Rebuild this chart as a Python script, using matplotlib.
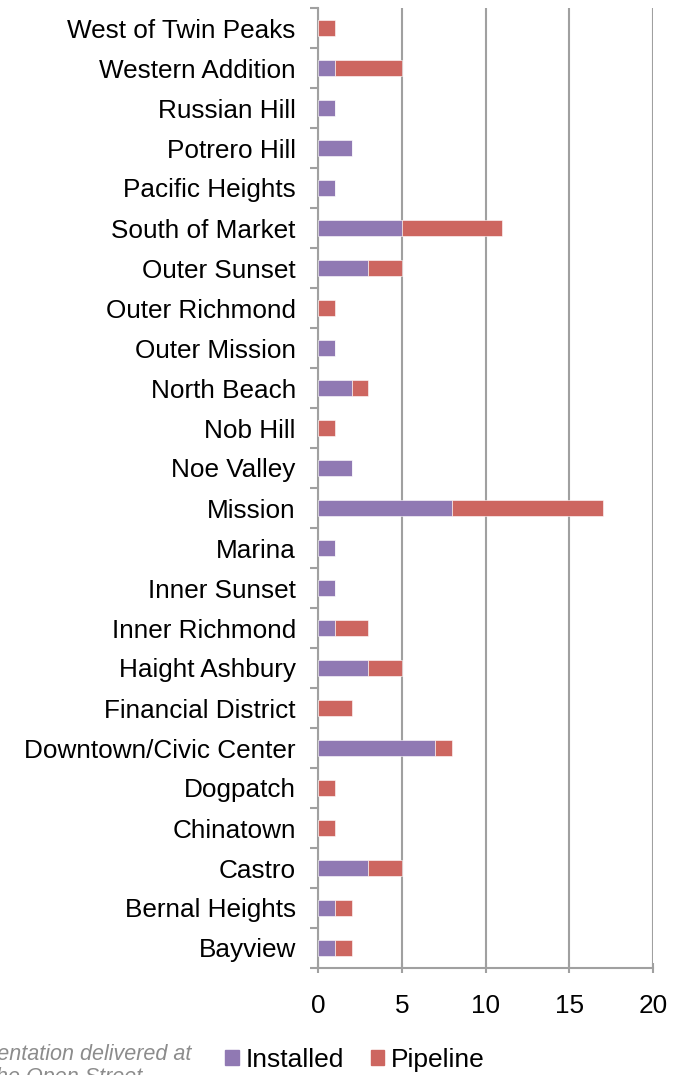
import numpy as np
import matplotlib
matplotlib.use("Agg")
import matplotlib.pyplot as plt
from matplotlib.patches import Patch

plt.rcParams['font.family'] = ['Liberation Sans', 'DejaVu Sans']

# neighbourhoods, bottom to top as drawn
neighborhoods = [
    "Bayview", "Bernal Heights", "Castro", "Chinatown", "Dogpatch",
    "Downtown/Civic Center", "Financial District", "Haight Ashbury",
    "Inner Richmond", "Inner Sunset", "Marina", "Mission", "Noe Valley",
    "Nob Hill", "North Beach", "Outer Mission", "Outer Richmond",
    "Outer Sunset", "South of Market", "Pacific Heights", "Potrero Hill",
    "Russian Hill", "Western Addition", "West of Twin Peaks",
]
installed = [1, 1, 3, 0, 0, 7, 0, 3, 1, 1, 1, 8, 2, 0, 2, 1, 0, 3, 5, 1, 2, 1, 1, 0]
pipeline = [1, 1, 2, 1, 1, 1, 2, 2, 2, 0, 0, 9, 0, 1, 1, 0, 1, 2, 6, 0, 0, 0, 4, 1]

purple = '#9079B3'
red = '#CD6660'
gray = '#A0A0A0'

fig = plt.figure(figsize=(6.82, 10.75), dpi=100)
ax = fig.add_axes([318 / 682, 1 - 968 / 1075, 335 / 682, 960 / 1075])

y = np.arange(len(neighborhoods))
ax.barh(y, installed, height=0.4, color=purple, edgecolor='white', linewidth=0.4, zorder=3)
ax.barh(y, pipeline, left=installed, height=0.4, color=red, edgecolor='white', linewidth=0.4, zorder=3)

ax.set_xlim(0, 20)
ax.set_ylim(-0.5, len(neighborhoods) - 0.5)
ax.set_xticks([0, 5, 10, 15, 20])
ax.set_yticks(y)
ax.set_yticklabels(neighborhoods)
ax.set_yticks(np.arange(-0.5, len(neighborhoods)), minor=True)

ax.tick_params(axis='y', which='major', length=0, labelsize=18.8, pad=16)
ax.tick_params(axis='y', which='minor', length=6, width=1.5, color=gray, direction='out')
ax.tick_params(axis='x', which='major', length=7, width=1.5, color=gray, direction='inout',
               labelsize=18.8, pad=15)

ax.grid(axis='x', color=gray, linewidth=1.5, zorder=0)
for side in ['top', 'right']:
    ax.spines[side].set_visible(False)
for side in ['left', 'bottom']:
    ax.spines[side].set_color(gray)
    ax.spines[side].set_linewidth(1.5)

handles = [Patch(color=purple, label='Installed'), Patch(color=red, label='Pipeline')]
fig.legend(handles=handles, loc='center', bbox_to_anchor=(355 / 682, 1 - 1060 / 1075),
           ncol=2, frameon=False, fontsize=19, handlelength=0.53, handleheight=0.53,
           handletextpad=0.25, columnspacing=1.0)

fig.text(-47 / 682, 1 - 1054 / 1075, "Presentation delivered at", fontsize=15.5,
         style='italic', color='#8C8C8C', ha='left', va='center')
fig.text(-10 / 682, 1 - 1078 / 1075, "the Open Street", fontsize=15.5,
         style='italic', color='#8C8C8C', ha='left', va='center')

fig.savefig('out.png', dpi=100)
